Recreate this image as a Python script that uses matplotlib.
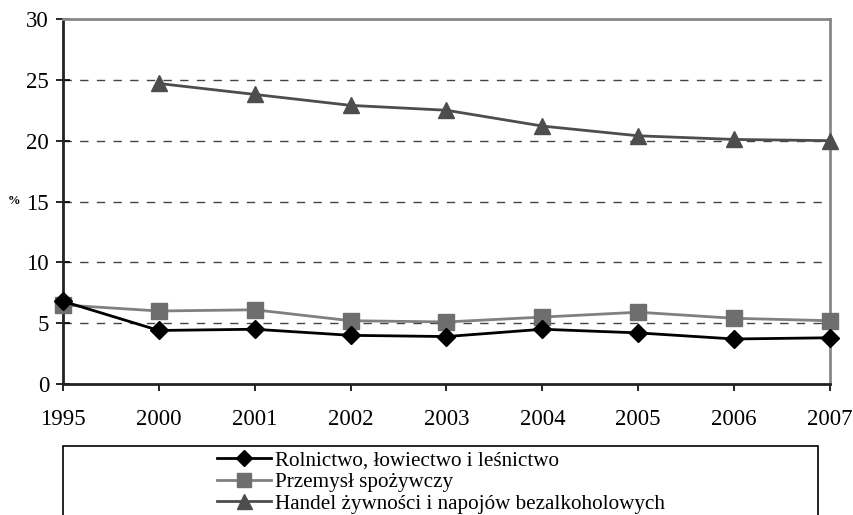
import numpy as np
import matplotlib as mpl

mpl.use('Agg')

import matplotlib.pyplot as plt
from matplotlib.patches import Rectangle

plt.rcParams['font.family'] = ['Liberation Serif', 'DejaVu Serif']

# lata (oś x, kategorie)
years = ['1995', '2000', '2001', '2002', '2003', '2004', '2005', '2006', '2007']

# udział w %
rolnictwo = [6.8, 4.4, 4.5, 4.0, 3.9, 4.5, 4.2, 3.7, 3.8]
przemysl = [6.5, 6.0, 6.1, 5.2, 5.1, 5.5, 5.9, 5.4, 5.2]
handel = [np.nan, 24.7, 23.8, 22.9, 22.5, 21.2, 20.4, 20.1, 20.0]

labels = ['Rolnictwo, łowiectwo i leśnictwo',
          'Przemysł spożywczy',
          'Handel żywności i napojów bezalkoholowych']

fig = plt.figure(figsize=(8.54, 5.15), dpi=100)
ax = fig.add_axes([63/854, 1 - 384/515, 767/854, 365/515])

x = np.arange(len(years))

ax.plot(x, rolnictwo, c='black', lw=2, marker='D', ms=9, mfc='black', mec='black',
        clip_on=False, zorder=5, label=labels[0])
ax.plot(x, przemysl, c='#808080', lw=2, marker='s', ms=11, mfc='#6e6e6e', mec='#6e6e6e',
        clip_on=False, zorder=4, label=labels[1])
ax.plot(x, handel, c='#4d4d4d', lw=2, marker='^', ms=12, mfc='#4d4d4d', mec='#4d4d4d',
        clip_on=False, zorder=4, label=labels[2])

ax.set_xlim(0, len(years) - 1)
ax.set_ylim(0, 30)
ax.set_xticks(x)
ax.set_xticklabels(years)
ax.set_yticks(np.arange(0, 31, 5))

# przerywane linie siatki
for yv in range(5, 30, 5):
    ax.axhline(yv, c='#444444', lw=1, ls=(0, (6, 6)), zorder=1)

for s in ['top', 'right']:
    ax.spines[s].set_color('#888888')
    ax.spines[s].set_linewidth(2)
for s in ['left', 'bottom']:
    ax.spines[s].set_color('#222222')
    ax.spines[s].set_linewidth(2)

ax.tick_params(axis='y', direction='inout', length=10, width=1.2, pad=5, labelsize=16.5)
ax.tick_params(axis='x', direction='out', length=5, width=1.2, pad=13, labelsize=16.5)

ax.set_ylabel('%', rotation=0, fontsize=9, fontweight='bold')
ax.yaxis.set_label_coords(-0.064, 0.5)
ax.yaxis.label.set_va('center')

# ramka legendy (ucięta u dołu)
fig.patches.append(Rectangle((63/854, -0.05), (818 - 63)/854, 1 - 446/515 + 0.05,
                             transform=fig.transFigure, fill=False, ec='black', lw=1.2))

fig.legend(loc='upper left', bbox_to_anchor=(217/854, 1 - 451/515), frameon=False,
           fontsize=15.25, handlelength=2.55, handletextpad=0.18, labelspacing=0.08,
           borderpad=0, borderaxespad=0, markerscale=0.9)

plt.savefig('out.png', dpi=100)
